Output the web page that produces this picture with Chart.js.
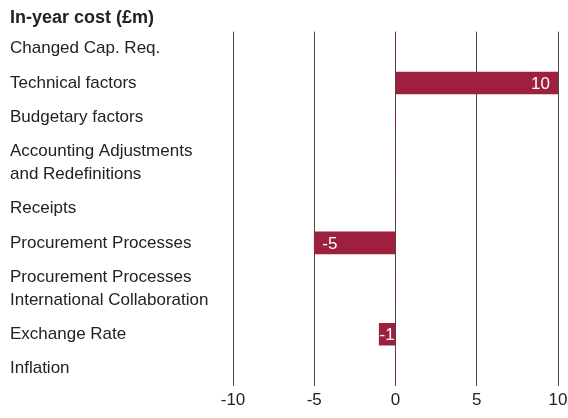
<!DOCTYPE html>
<html>
<head>
<meta charset="utf-8">
<script src="https://cdn.jsdelivr.net/npm/chart.js@4.4.1/dist/chart.umd.min.js"></script>
<style>
  html, body { margin: 0; padding: 0; background: #fff; }
  #wrap { width: 568px; height: 418px; }
</style>
</head>
<body>
<div id="wrap"><canvas id="costChart"></canvas></div>
<script>
const categories = [
  ['Changed Cap. Req.'],
  ['Technical factors'],
  ['Budgetary factors'],
  ['Accounting Adjustments', 'and Redefinitions'],
  ['Receipts'],
  ['Procurement Processes'],
  ['Procurement Processes', 'International Collaboration'],
  ['Exchange Rate'],
  ['Inflation']
]
const costValues = [0, 10, 0, 0, 0, -5, 0, -1, 0]
const xTicks = [-10, -5, 0, 5, 10]

const barColour = '#9e203f'
const textColour = '#222'

// rows with two-line labels get more room, so place rows on a linear scale
const rowUnits = categories.map(lines => 1 + 2 * lines.length)
const rowCentres = []
let used = 0
rowUnits.forEach(u => {
  rowCentres.push(used + u / 2)
  used += u
})
const totalUnits = used

Chart.defaults.font.family = "'Helvetica Neue', Helvetica, Arial, 'Liberation Sans', sans-serif"
Chart.defaults.font.size = 17
Chart.defaults.color = textColour

// white value text inside each bar, at its outer end
const barValues = {
  id: 'barValues',
  afterDatasetsDraw (chart) {
    const ctx = chart.ctx
    const meta = chart.getDatasetMeta(0)
    ctx.save()
    ctx.font = "17px 'Helvetica Neue', Helvetica, Arial, 'Liberation Sans', sans-serif"
    ctx.fillStyle = '#fff'
    ctx.textBaseline = 'middle'
    meta.data.forEach((bar, i) => {
      const v = costValues[i]
      if (!v) return
      const text = String(v)
      const w = ctx.measureText(text).width
      const len = Math.abs(bar.x - bar.base)
      const pad = Math.max(0, Math.min(8, (len - w) / 2))
      if (v > 0) {
        ctx.textAlign = 'right'
        ctx.fillText(text, bar.x - pad, bar.y + 1)
      } else {
        ctx.textAlign = 'left'
        ctx.fillText(text, bar.x + pad, bar.y + 1)
      }
    })
    ctx.restore()
  }
}

const ctx = document.getElementById('costChart')

new Chart(ctx, {
  type: 'bar',
  data: {
    datasets: [{
      label: 'In-year cost (£m)',
      data: costValues.map((v, i) => ({ x: v, y: rowCentres[i] })),
      backgroundColor: barColour,
      borderWidth: 0,
      barThickness: 22
    }]
  },
  options: {
    indexAxis: 'y',
    responsive: true,
    maintainAspectRatio: false,
    animation: false,
    layout: {
      padding: { left: 10, right: 10, top: 0, bottom: 2 }
    },
    plugins: {
      legend: { display: false },
      tooltip: { enabled: false },
      title: {
        display: true,
        text: 'In-year cost (£m)',
        align: 'start',
        color: textColour,
        font: { size: 18, weight: 'bold' },
        padding: { top: 7, bottom: 3 }
      }
    },
    scales: {
      x: {
        type: 'linear',
        position: 'bottom',
        min: xTicks[0],
        max: xTicks[xTicks.length - 1],
        afterBuildTicks: scale => {
          scale.ticks = xTicks.map(v => ({ value: v }))
        },
        afterFit: scale => {
          // the last tick label may run into the right margin
          scale.paddingRight = 0
        },
        grid: {
          color: '#4a4a4a',
          lineWidth: 1,
          drawTicks: false
        },
        border: { display: false },
        ticks: {
          padding: 5,
          color: textColour,
          font: { size: 17 }
        }
      },
      y: {
        type: 'linear',
        offset: false,
        reverse: true,
        min: 0,
        max: totalUnits,
        afterBuildTicks: scale => {
          scale.ticks = rowCentres.map(v => ({ value: v }))
        },
        afterFit: scale => {
          scale.width = 223
        },
        grid: { display: false },
        border: { display: false },
        ticks: {
          autoSkip: false,
          crossAlign: 'far',
          color: textColour,
          font: { size: 17, lineHeight: 1.35 },
          callback: (value, index) => categories[index]
        }
      }
    }
  },
  plugins: [barValues]
})
</script>
</body>
</html>
